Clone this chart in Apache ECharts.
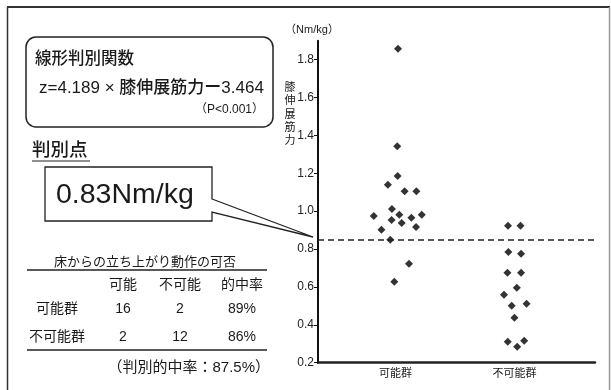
<!DOCTYPE html>
<html>
<head>
<meta charset="utf-8">
<script src="https://cdn.jsdelivr.net/npm/echarts@6/dist/echarts.min.js"></script>
<style>html,body{margin:0;padding:0;background:#fff}#c{width:611px;height:390px}</style>
</head>
<body>
<div id="c"></div>
<script>
// ---- data ----
const categories = ['可能群', '不可能群'];
const possibleValues = [1.858, 1.343, 1.186, 1.139, 1.105, 1.105, 1.012, 0.975, 0.981, 0.981, 0.954, 0.965, 0.938, 0.902, 0.917, 0.849, 0.722, 0.627];
const possibleJitter = [0.02, 0.014, 0.017, -0.065, 0.076, 0.175, -0.031, -0.184, 0.031, 0.22, -0.034, 0.133, 0.051, -0.119, 0.172, -0.045, 0.113, -0.011];
const impossibleValues = [0.923, 0.923, 0.784, 0.775, 0.675, 0.675, 0.596, 0.559, 0.511, 0.501, 0.437, 0.311, 0.316, 0.284];
const impossibleJitter = [-0.054, 0.051, -0.051, 0.056, -0.059, 0.056, 0.02, -0.088, 0.102, -0.023, 0, -0.056, 0.082, 0.023];
const yTicks = [0.2, 0.4, 0.6, 0.8, 1.0, 1.2, 1.4, 1.6, 1.8];
const cutoffLine = 0.847;
const cutoffText = '0.83Nm/kg';
const formulaTitle = '線形判別関数';
const formulaText = 'z=4.189 × 膝伸展筋力ー3.464';
const pText = '（P<0.001）';
const tableTitle = '床からの立ち上がり動作の可否';
const tableColumns = ['可能', '不可能', '的中率'];
const tableRows = ['可能群', '不可能群'];
const tableCounts = [[16, 2], [2, 12]];
const tableRates = ['89%', '86%'];
const overallRate = '（判別的中率：87.5%）';
const yName = '（Nm/kg）';
const yLabelVertical = '膝伸展筋力';

// ---- build ----
const FF = "'Liberation Sans', 'Noto Sans CJK JP', sans-serif";
const TXT = '#1a1a1a';
function t(text, x, y, size, align, extra) {
  return { type: 'text', silent: true, style: Object.assign({ text: text, x: x, y: y, fontSize: size, fontFamily: FF, fill: TXT, align: align || 'left', verticalAlign: 'middle' }, extra || {}) };
}
const ptsA = possibleValues.map((v, i) => [1 + possibleJitter[i], v]);
const ptsB = impossibleValues.map((v, i) => [2 + impossibleJitter[i], v]);

const graphics = [];
// outer frame
graphics.push({ type: 'line', silent: true, shape: { x1: 7, y1: 7, x2: 610, y2: 7 }, style: { stroke: '#333', lineWidth: 2 } });
graphics.push({ type: 'line', silent: true, shape: { x1: 7.5, y1: 7, x2: 7.5, y2: 392 }, style: { stroke: '#333', lineWidth: 1.5 } });
graphics.push({ type: 'line', silent: true, shape: { x1: 609.5, y1: 7, x2: 609.5, y2: 392 }, style: { stroke: '#999', lineWidth: 1.5 } });
// formula box
graphics.push({ type: 'rect', silent: true, shape: { x: 26, y: 37, width: 247, height: 90, r: 10 }, style: { fill: '#fff', stroke: '#222', lineWidth: 1.5 } });
graphics.push(t(formulaTitle, 35, 59, 16.5, 'left', { fontWeight: 500 }));
graphics.push(t(formulaText, 39, 88, 17, 'left', { fontWeight: 500 }));
graphics.push(t(pText, 264, 110, 12, 'right'));
// cut point
graphics.push(t('判別点', 32, 151, 18.5, 'left', { fontWeight: 500 }));
graphics.push({ type: 'line', silent: true, shape: { x1: 32, y1: 161, x2: 90, y2: 161 }, style: { stroke: '#222', lineWidth: 1.2 } });
graphics.push({ type: 'polygon', silent: true, shape: { points: [[212, 199], [313, 237], [212, 212], [212, 221], [45, 221], [45, 167], [212, 167]] }, style: { fill: '#fff', stroke: '#222', lineWidth: 1.3 } });
graphics.push(t(cutoffText, 56, 195, 28.5));
// table
graphics.push(t(tableTitle, 145, 262, 13, 'center'));
graphics.push({ type: 'line', silent: true, shape: { x1: 27, y1: 270, x2: 267, y2: 270 }, style: { stroke: '#222', lineWidth: 1.5 } });
const colX = [123, 180, 242];
tableColumns.forEach((c, i) => graphics.push(t(c, colX[i], 285, 14, 'center')));
const rowY = [309, 337];
tableRows.forEach((r, i) => {
  graphics.push(t(r, 57, rowY[i], 14, 'center'));
  tableCounts[i].forEach((n, j) => graphics.push(t(String(n), colX[j], rowY[i], 14, 'center')));
  graphics.push(t(tableRates[i], colX[2], rowY[i], 14, 'center'));
});
graphics.push({ type: 'line', silent: true, shape: { x1: 27, y1: 350, x2: 267, y2: 350 }, style: { stroke: '#222', lineWidth: 1.5 } });
graphics.push(t(overallRate, 270, 368, 15, 'right'));
// axis titles
graphics.push(t(yName, 312, 30, 11, 'center'));
yLabelVertical.split('').forEach((ch, i) => graphics.push(t(ch, 290, 88 + i * 13.3, 11, 'center')));

const chart = echarts.init(document.getElementById('c'));
chart.setOption({
  animation: false,
  backgroundColor: '#fff',
  grid: { left: 318, right: 16, top: 40.7, bottom: 27.3, containLabel: false },
  xAxis: {
    type: 'value', min: 0.347, max: 2.678,
    splitLine: { show: false },
    axisLine: { show: true, onZero: false, lineStyle: { color: '#222', width: 2.5 } },
    axisTick: { show: false },
    axisLabel: { customValues: [1, 2], formatter: v => categories[Math.round(v) - 1], fontSize: 11, fontFamily: FF, color: TXT, margin: 6 }
  },
  yAxis: {
    type: 'value', min: 0.2, max: 1.9,
    splitLine: { show: false },
    axisLine: { show: true, lineStyle: { color: '#111', width: 2 } },
    axisTick: { show: true, customValues: yTicks, length: 4, lineStyle: { color: '#111', width: 1 } },
    axisLabel: { customValues: yTicks, formatter: v => v.toFixed(1), fontSize: 12, fontFamily: FF, color: '#222', margin: 4 }
  },
  series: [
    {
      type: 'scatter', data: ptsA, symbol: 'diamond', symbolSize: 8,
      itemStyle: { color: '#000' },
      markLine: {
        silent: true, symbol: 'none', label: { show: false },
        lineStyle: { color: '#222', width: 1.6, type: [6, 4] },
        data: [{ yAxis: cutoffLine }]
      }
    },
    { type: 'scatter', data: ptsB, symbol: 'diamond', symbolSize: 8, itemStyle: { color: '#000' } }
  ],
  graphic: graphics
});
</script>
</body>
</html>
